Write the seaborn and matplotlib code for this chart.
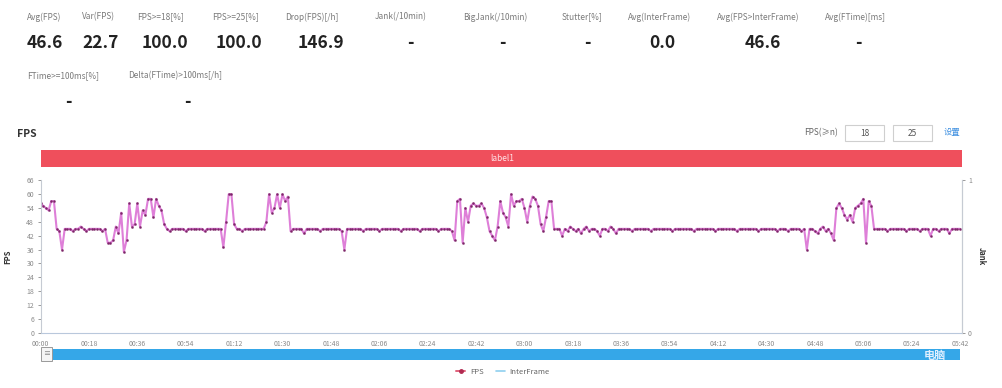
import matplotlib
matplotlib.use("Agg")
import matplotlib.pyplot as plt
from matplotlib.patches import Rectangle
from matplotlib.lines import Line2D
import seaborn as sns
import pandas as pd

sns.set_style("white")
plt.rcParams['font.family'] = ['Noto Sans CJK SC', 'DejaVu Sans']

# ---------------- data ----------------
stat_labels = ["Avg(FPS)", "Var(FPS)", "FPS>=18[%]", "FPS>=25[%]", "Drop(FPS)[/h]",
               "Jank(/10min)", "BigJank(/10min)", "Stutter[%]", "Avg(InterFrame)",
               "Avg(FPS>InterFrame)", "Avg(FTime)[ms]"]
stat_values = ["46.6", "22.7", "100.0", "100.0", "146.9", "-", "-", "-", "0.0", "46.6", "-"]
stat_labels2 = ["FTime>=100ms[%]", "Delta(FTime)>100ms[/h]"]
stat_values2 = ["-", "-"]

fps = [
    56, 55, 54, 53, 57, 57, 45, 44, 36, 45,
    45, 45, 44, 45, 45, 46, 45, 44, 45, 45,
    45, 45, 45, 44, 45, 39, 39, 40, 46, 43,
    52, 35, 40, 56, 46, 47, 56, 46, 53, 51,
    58, 58, 50, 58, 55, 53, 47, 45, 44, 45,
    45, 45, 45, 45, 44, 45, 45, 45, 45, 45,
    45, 44, 45, 45, 45, 45, 45, 45, 37, 48,
    60, 60, 47, 45, 45, 44, 45, 45, 45, 45,
    45, 45, 45, 45, 48, 60, 52, 54, 60, 54,
    60, 57, 59, 44, 45, 45, 45, 45, 43, 45,
    45, 45, 45, 45, 44, 45, 45, 45, 45, 45,
    45, 45, 44, 36, 45, 45, 45, 45, 45, 45,
    44, 45, 45, 45, 45, 45, 44, 45, 45, 45,
    45, 45, 45, 45, 44, 45, 45, 45, 45, 45,
    45, 44, 45, 45, 45, 45, 45, 45, 44, 45,
    45, 45, 45, 44, 40, 57, 58, 39, 54, 48,
    55, 56, 55, 55, 56, 54, 50, 44, 42, 40,
    46, 57, 52, 50, 46, 60, 55, 57, 57, 58,
    54, 48, 55, 59, 58, 55, 47, 44, 50, 57,
    57, 45, 45, 45, 42, 45, 44, 46, 45, 44,
    45, 43, 45, 46, 44, 45, 45, 44, 42, 45,
    45, 44, 46, 45, 43, 45, 45, 45, 45, 45,
    44, 45, 45, 45, 45, 45, 45, 44, 45, 45,
    45, 45, 45, 45, 45, 44, 45, 45, 45, 45,
    45, 45, 45, 44, 45, 45, 45, 45, 45, 45,
    45, 44, 45, 45, 45, 45, 45, 45, 45, 44,
    45, 45, 45, 45, 45, 45, 45, 44, 45, 45,
    45, 45, 45, 45, 44, 45, 45, 45, 44, 45,
    45, 45, 45, 44, 45, 36, 45, 45, 44, 43,
    45, 46, 44, 45, 43, 40, 54, 56, 54, 51,
    49, 51, 48, 54, 55, 56, 58, 39, 57, 55,
    45, 45, 45, 45, 45, 44, 45, 45, 45, 45,
    45, 45, 44, 45, 45, 45, 45, 44, 45, 45,
    45, 42, 45, 45, 44, 45, 45, 45, 43, 45,
    45, 45, 45,
]
seconds = list(range(len(fps)))

x_tick_labels = ["00:00", "00:18", "00:36", "00:54", "01:12", "01:30", "01:48", "02:06",
                 "02:24", "02:42", "03:00", "03:18", "03:36", "03:54", "04:12", "04:30",
                 "04:48", "05:06", "05:24", "05:42"]
y_ticks = [0, 6, 12, 18, 24, 30, 36, 42, 48, 54, 60, 66]
fps_thresholds = ["18", "25"]
label_name = "label1"

df = pd.DataFrame({"t": seconds, "FPS": fps})

# ---------------- figure ----------------
W, H = 1002, 388
fig = plt.figure(figsize=(W / 100, H / 100), dpi=100)
fig.patch.set_facecolor("white")

def fx(px):
    return px / W

def fy(py):
    return 1 - py / H

# top statistics
label_x = [27, 82, 137, 212, 285, 375, 463, 562, 628, 717, 825]
value_x = [45, 101, 165, 239, 321, 410, 502, 587, 662, 763, 858]
for lx, lab in zip(label_x, stat_labels):
    fig.text(fx(lx), fy(17), lab, fontsize=6, color="#7a7a7a", va="center", ha="left")
for vx, val in zip(value_x, stat_values):
    fig.text(fx(vx), fy(43), val, fontsize=12.5, fontweight="bold", color="#222222",
             va="center", ha="center")
for lx, lab in zip([27, 128], stat_labels2):
    fig.text(fx(lx), fy(76), lab, fontsize=6, color="#7a7a7a", va="center", ha="left")
for vx, val in zip([68, 187], stat_values2):
    fig.text(fx(vx), fy(102), val, fontsize=12.5, fontweight="bold", color="#222222",
             va="center", ha="center")

# section title
fig.text(fx(17), fy(134), "FPS", fontsize=7.5, fontweight="bold", color="#333333",
         va="center", ha="left")

# FPS(>=n) inputs
fig.text(fx(838), fy(133), "FPS(≥n)", fontsize=6, color="#666666", va="center", ha="right")
for bx, val in zip([845, 893], fps_thresholds):
    fig.patches.append(Rectangle((fx(bx), fy(141)), fx(39), 16 / H, transform=fig.transFigure,
                                 facecolor="white", edgecolor="#cfcfcf", lw=0.8))
    fig.text(fx(bx + 19.5), fy(133), val, fontsize=6, color="#555555", va="center", ha="center")
fig.text(fx(952), fy(133), "设置", fontsize=6, color="#3d8fe0", va="center", ha="center")

# red label band
fig.patches.append(Rectangle((fx(41), fy(167)), fx(921), 17 / H, transform=fig.transFigure,
                             facecolor="#ef4f5c", edgecolor="none"))
fig.text(fx(502), fy(158.5), label_name, fontsize=6, color="#ffe5e8", va="center", ha="center")

# main axes
ax = fig.add_axes([fx(40.5), fy(332.7), fx(921.2), (332.7 - 180.4) / H])
sns.lineplot(data=df, x="t", y="FPS", ax=ax, color="#de7fd8", lw=1.5,
             marker="o", markersize=1.6, markerfacecolor="#7d2668",
             markeredgecolor="#7d2668", markeredgewidth=0.2)

def to_sec(s):
    m, sec = s.split(":")
    return int(m) * 60 + int(sec)

ax.set_xlim(0, 342.6)
ax.set_ylim(0, 66)
ax.set_xticks([to_sec(s) for s in x_tick_labels])
ax.set_xticklabels(x_tick_labels)
ax.set_yticks(y_ticks)
ax.tick_params(axis="both", labelsize=5, colors="#8a8a8a", length=2.5, width=0.6,
               direction="out", pad=2)
ax.tick_params(axis="x", labelcolor="#8a8a8a", pad=3)
ax.set_xlabel("")
ax.set_ylabel("FPS", fontsize=5.5, fontweight="bold", color="#333333", labelpad=10)
ax.spines["top"].set_visible(False)
for side in ["left", "bottom", "right"]:
    ax.spines[side].set_color("#c6cbd3")
    ax.spines[side].set_linewidth(0.8)
ax.spines["bottom"].set_color("#b9c8dc")
ax.grid(False)

ax2 = ax.twinx()
ax2.set_ylim(0, 1)
ax2.set_yticks([0, 1])
ax2.tick_params(axis="y", labelsize=5, colors="#8a8a8a", length=2.5, width=0.6, pad=2)
ax2.set_ylabel("Jank", fontsize=5.5, fontweight="bold", color="#333333", rotation=270,
               labelpad=10)
for side in ["top", "left", "bottom"]:
    ax2.spines[side].set_visible(False)
ax2.spines["right"].set_color("#c6cbd3")
ax2.spines["right"].set_linewidth(0.8)

# zoom slider
fig.patches.append(Rectangle((fx(52), fy(360)), fx(908), 11 / H, transform=fig.transFigure,
                             facecolor="#35a7e8", edgecolor="none"))
fig.patches.append(Rectangle((fx(41), fy(361)), fx(11), 14 / H, transform=fig.transFigure,
                             facecolor="#f5f5f5", edgecolor="#9a9a9a", lw=0.7))
fig.text(fx(46.5), fy(354), "≡", fontsize=5, color="#888888", va="center", ha="center")
fig.text(fx(935), fy(355), "电脑", fontsize=8, color="#dfefff", va="center", ha="center",
         fontweight="bold")

# legend
handles = [Line2D([], [], color="#e0607a", lw=1.4, marker="o", markersize=2.5,
                  markerfacecolor="#b02a50", markeredgecolor="#b02a50"),
           Line2D([], [], color="#8fd0ef", lw=1.2)]
fig.legend(handles, ["FPS", "InterFrame"], loc="center", bbox_to_anchor=(fx(503), fy(372)),
           ncol=2, frameon=False, fontsize=5.5, handlelength=1.2, columnspacing=1.6,
           handletextpad=0.6, labelcolor="#666666")

fig.savefig("out.png", dpi=100, facecolor="white")
